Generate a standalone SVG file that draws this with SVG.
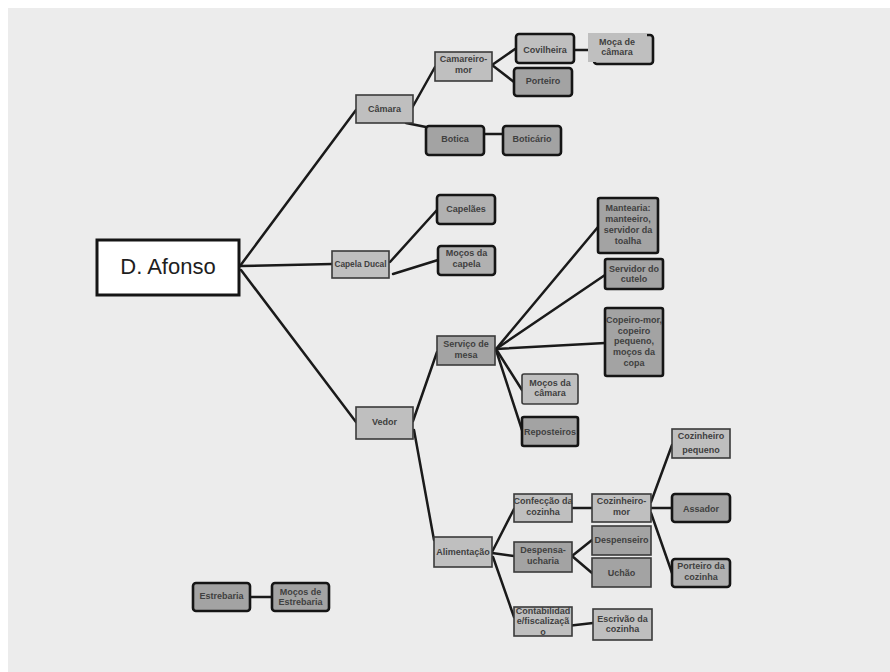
<svg xmlns="http://www.w3.org/2000/svg" width="890" height="672" viewBox="0 0 890 672">
<style>
.L{fill:#bfbfbf}
.M{fill:#b1b1b1}
.D{fill:#a3a3a3}
.t{stroke:#3a3a3a;stroke-width:1.6}
.k{stroke:#151515;stroke-width:2.6}
text{font-family:"Liberation Sans",Arial,sans-serif;font-size:9px;font-weight:bold;fill:#404040;text-anchor:middle}
.edges line{stroke:#1a1a1a;stroke-width:2.5;stroke-linecap:round}
</style>
<rect x="0" y="0" width="890" height="672" fill="#ffffff"/>
<rect x="8" y="8" width="882" height="664" fill="#ececec"/>

<g class="edges" id="connectors">
<line x1="240" y1="266" x2="356" y2="110"/>
<line x1="240" y1="266" x2="332" y2="264"/>
<line x1="241" y1="270" x2="356" y2="422"/>
<line x1="412" y1="108" x2="435" y2="67"/>
<line x1="406" y1="123" x2="426" y2="127"/>
<line x1="492" y1="65" x2="515" y2="49"/>
<line x1="492" y1="65" x2="514" y2="82"/>
<line x1="574" y1="50" x2="597" y2="50"/>
<line x1="484" y1="134" x2="503" y2="134"/>
<line x1="390" y1="262" x2="437" y2="210"/>
<line x1="393" y1="274" x2="438" y2="260"/>
<line x1="413" y1="421" x2="437" y2="352"/>
<line x1="414" y1="430" x2="434" y2="540"/>
<line x1="496" y1="349" x2="598" y2="227"/>
<line x1="496" y1="349" x2="605" y2="275"/>
<line x1="496" y1="349" x2="605" y2="343"/>
<line x1="496" y1="349" x2="522" y2="390"/>
<line x1="496" y1="350" x2="522" y2="430"/>
<line x1="492" y1="552" x2="514" y2="509"/>
<line x1="492" y1="553" x2="514" y2="556"/>
<line x1="493" y1="557" x2="514" y2="617"/>
<line x1="572" y1="508" x2="592" y2="508"/>
<line x1="572" y1="556" x2="592" y2="540"/>
<line x1="572" y1="556" x2="592" y2="573"/>
<line x1="651" y1="502" x2="672" y2="445"/>
<line x1="651" y1="508" x2="672" y2="508"/>
<line x1="651" y1="513" x2="672" y2="573"/>
<line x1="567" y1="626" x2="593" y2="623"/>
<line x1="250" y1="597" x2="272" y2="597"/>
</g>

<g id="d-afonso">
<rect x="97" y="240" width="142" height="55" fill="#ffffff" stroke="#151515" stroke-width="3"/>
<text x="168" y="274" style="font-size:22px;font-weight:normal;fill:#1e1e1e">D. Afonso</text>
</g>

<g id="camara"><rect class="L t" x="356" y="95" width="57" height="28"/><text x="384.5" y="112">Câmara</text></g>
<g id="camareiro-mor"><rect class="L t" x="435" y="52" width="57" height="29"/><text x="463.5" y="62">Camareiro-</text><text x="463.5" y="73">mor</text></g>
<g id="covilheira"><rect class="L k" x="516" y="34" width="58" height="29" rx="3"/><text x="545" y="53">Covilheira</text></g>
<g id="moca-de-camara"><rect class="L k" x="594" y="35" width="59" height="29" rx="3"/><rect class="L" x="588" y="33" width="59" height="29"/><text x="617" y="45">Moça de</text><text x="617" y="55">câmara</text></g>
<g id="porteiro"><rect class="D k" x="514" y="68" width="58" height="28" rx="3"/><text x="543" y="84">Porteiro</text></g>
<g id="botica"><rect class="D k" x="426" y="126" width="58" height="29" rx="3"/><text x="455" y="142">Botica</text></g>
<g id="boticario"><rect class="D k" x="503" y="126" width="58" height="29" rx="3"/><text x="532" y="142">Boticário</text></g>

<g id="capela-ducal"><rect class="L t" x="332" y="251" width="57" height="27"/><text x="360.5" y="267" style="font-size:8.3px">Capela Ducal</text></g>
<g id="capelaes"><rect class="M k" x="437" y="195" width="58" height="29" rx="3"/><text x="466" y="212">Capelães</text></g>
<g id="mocos-da-capela"><rect class="M k" x="438" y="246" width="57" height="29" rx="3"/><text x="466.5" y="256">Moços da</text><text x="466.5" y="267">capela</text></g>

<g id="vedor"><rect class="L t" x="356" y="407" width="57" height="32"/><text x="384.5" y="425">Vedor</text></g>

<g id="servico-de-mesa"><rect class="D t" x="437" y="336" width="58" height="29"/><text x="466" y="347">Serviço de</text><text x="466" y="358">mesa</text></g>
<g id="mantearia"><rect class="D k" x="598" y="198" width="60" height="55" rx="2"/><text x="628" y="211">Mantearia:</text><text x="628" y="222">manteeiro,</text><text x="628" y="233">servidor da</text><text x="628" y="244">toalha</text></g>
<g id="servidor-do-cutelo"><rect class="D k" x="605" y="259" width="58" height="30" rx="2"/><text x="634" y="272">Servidor do</text><text x="634" y="282">cutelo</text></g>
<g id="copeiro-mor"><rect class="D k" x="605" y="308" width="58" height="68" rx="2"/><text x="634" y="323">Copeiro-mor,</text><text x="634" y="334">copeiro</text><text x="634" y="344">pequeno,</text><text x="634" y="355">moços da</text><text x="634" y="366">copa</text></g>
<g id="mocos-da-camara"><rect class="L t" x="522" y="374" width="56" height="30" rx="2"/><text x="550" y="386">Moços da</text><text x="550" y="396">câmara</text></g>
<g id="reposteiros"><rect class="D k" x="522" y="417" width="56" height="29" rx="2"/><text x="550" y="435">Reposteiros</text></g>

<g id="alimentacao"><rect class="L t" x="434" y="537" width="58" height="30"/><text x="463" y="555">Alimentação</text></g>
<g id="confeccao-da-cozinha"><rect class="L t" x="514" y="494" width="58" height="28"/><text x="543" y="504">Confecção da</text><text x="543" y="515">cozinha</text></g>
<g id="despensa-ucharia"><rect class="D t" x="514" y="542" width="58" height="30"/><text x="543" y="553">Despensa-</text><text x="543" y="564">ucharia</text></g>
<g id="contabilidade"><rect class="L t" x="514" y="607" width="58" height="29"/><text x="543" y="614">Contabilidad</text><text x="543" y="624">e/fiscalizaçã</text><text x="543" y="635">o</text></g>
<g id="cozinheiro-mor"><rect class="L t" x="592" y="494" width="59" height="28"/><text x="621.5" y="504">Cozinheiro-</text><text x="621.5" y="515">mor</text></g>
<g id="despenseiro"><rect class="D t" x="592" y="526" width="59" height="29"/><text x="621.5" y="543">Despenseiro</text></g>
<g id="uchao"><rect class="D t" x="592" y="558" width="59" height="29"/><text x="621.5" y="576">Uchão</text></g>
<g id="escrivao-da-cozinha"><rect class="L t" x="593" y="609" width="59" height="31"/><text x="622.5" y="622">Escrivão da</text><text x="622.5" y="632">cozinha</text></g>
<g id="cozinheiro-pequeno"><rect class="L t" x="672" y="429" width="58" height="29"/><text x="701" y="439">Cozinheiro</text><text x="701" y="453">pequeno</text></g>
<g id="assador"><rect class="D k" x="672" y="494" width="58" height="28" rx="3"/><text x="701" y="512">Assador</text></g>
<g id="porteiro-da-cozinha"><rect class="M k" x="672" y="559" width="58" height="28" rx="3"/><text x="701" y="569">Porteiro da</text><text x="701" y="580">cozinha</text></g>

<g id="estrebaria"><rect class="D k" x="193" y="583" width="57" height="28" rx="3"/><text x="221.5" y="599">Estrebaria</text></g>
<g id="mocos-de-estrebaria"><rect class="D k" x="272" y="583" width="57" height="28" rx="3"/><text x="300.5" y="595">Moços de</text><text x="300.5" y="605">Estrebaria</text></g>
</svg>
